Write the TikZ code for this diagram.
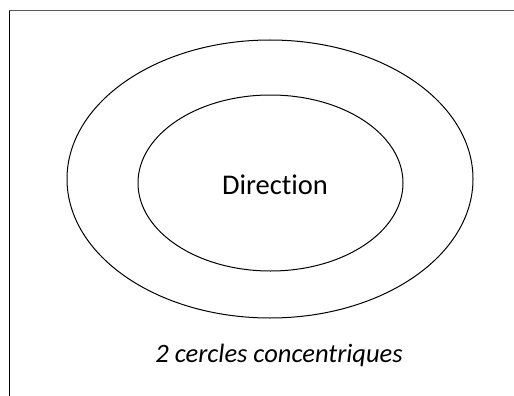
\documentclass[tikz,border=0pt]{standalone}
\usepackage{fontspec}
\setmainfont[Ligatures=NoCommon]{Carlito}
\usetikzlibrary{shapes.geometric}
\begin{document}
\begin{tikzpicture}[x=1pt,y=-1pt,
  ring/.style={ellipse,draw,line width=1pt,inner sep=0pt},
  frameline/.style={line width=1pt}]
\useasboundingbox (0,0) rectangle (514,396);
\node[ring,minimum width=406pt,minimum height=278pt] (outer) at (270,179) {};
\node[ring,minimum width=265pt,minimum height=176pt] (inner) at (270.5,183) {};
\node[font=\fontsize{28.5}{30}\selectfont] (label) at (275,185) {Direction};
\node[font=\fontsize{26.5}{30}\selectfont\itshape] (caption) at (279,355) {2 cercles concentriques};
\coordinate (tl) at (9,11);
\coordinate (tr) at (514,11);
\coordinate (bl) at (9,396);
\draw[frameline,draw=black!65] (tl) -- (tr);
\draw[frameline] (tl) -- (bl);
\end{tikzpicture}
\end{document}
